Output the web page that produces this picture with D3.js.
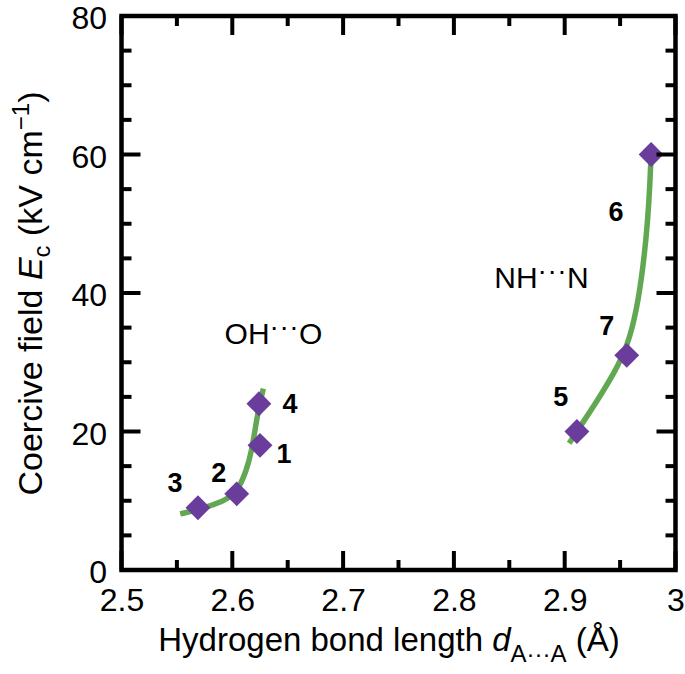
<!DOCTYPE html>
<html><head><meta charset="utf-8">
<script src="https://cdn.jsdelivr.net/npm/d3@7"></script>
<style>body{margin:0;background:#fff}svg{display:block}text{font-family:"Liberation Sans",Arial,Helvetica,sans-serif}</style>
</head><body>
<svg id="c" width="685" height="674"></svg>
<script>
// data
const pointIds = ["1","2","3","4","5","6","7"];
const pointX = [2.625, 2.604, 2.569, 2.624, 2.911, 2.978, 2.956];
const pointY = [18, 11, 9, 24, 20, 60, 31];
// guide curves
const ohCurveX = [2.553, 2.569, 2.592, 2.604, 2.613, 2.6175, 2.6205, 2.6235, 2.628];
const ohCurveY = [8.1, 8.7, 9.9, 11.1, 14.4, 17.3, 20.2, 23.1, 26.2];
const nhCurveX = [2.904, 2.916, 2.930, 2.946, 2.957, 2.965, 2.971, 2.975, 2.977, 2.978];
const nhCurveY = [18.3, 21.2, 24.6, 28.8, 32.5, 37.5, 44.0, 50.5, 56.0, 60.0];
const xTicks = [2.5, 2.6, 2.7, 2.8, 2.9, 3.0];
const xTickLabels = ["2.5", "2.6", "2.7", "2.8", "2.9", "3"];
const xMinor = [2.55, 2.65, 2.75, 2.85, 2.95];
const yTicks = [0, 20, 40, 60, 80];
const yMinor = [5,10,15,25,30,35,45,50,55,65,70,75];
// label offsets for point ids (px)
const labelDx = [24, -18, -23, 31, -16, -35, -20];
const labelDy = [9, -21, -25, 0, -35, 57, -29];

const svg = d3.select("#c");
const L = 121.5, R = 675.5, T = 16, B = 570;
const x = d3.scaleLinear().domain([2.5, 3.0]).range([L, R]);
const y = d3.scaleLinear().domain([0, 80]).range([B, T]);
const black = "#000";

// curves
const line = d3.line().x(d => x(d[0])).y(d => y(d[1])).curve(d3.curveBasis);
const green = "#62a852";
svg.append("path").datum(d3.zip(ohCurveX, ohCurveY)).attr("d", line)
  .attr("fill","none").attr("stroke",green).attr("stroke-width",5.5);
svg.append("path").datum(d3.zip(nhCurveX, nhCurveY)).attr("d", line)
  .attr("fill","none").attr("stroke",green).attr("stroke-width",5.5);

// diamonds
const sym = d3.symbol().type(d3.symbolSquare).size(310);
svg.selectAll(".pt").data(pointIds).enter().append("path")
  .attr("d", sym)
  .attr("transform", (d,i) => `translate(${x(pointX[i])},${y(pointY[i])}) rotate(45)`)
  .attr("fill", "#6a3d9c");

// point labels
svg.selectAll(".lbl").data(pointIds).enter().append("text")
  .attr("x", (d,i) => x(pointX[i]) + labelDx[i])
  .attr("y", (d,i) => y(pointY[i]) + labelDy[i])
  .attr("text-anchor","middle").attr("dominant-baseline","central")
  .attr("font-size", 27).attr("font-weight","bold").text(d => d);

// group labels
function groupLabel(gx, gy, a, b) {
  const t = svg.append("text").attr("x", gx).attr("y", gy).attr("text-anchor","middle").attr("font-size", 30);
  t.append("tspan").text(a);
  t.append("tspan").attr("dy", -8).attr("font-size", 28).attr("letter-spacing", 0.5).text("···");
  t.append("tspan").attr("dy", 8).text(b);
}
groupLabel(273.5, 344, "OH", "O");
groupLabel(541.5, 288, "NH", "N");

// axes: labels from d3 axes, ticks inward on all sides
const axB = d3.axisBottom(x).tickValues(xTicks).tickFormat((d,i) => xTickLabels[i]).tickSize(0).tickPadding(18);
const gB = svg.append("g").attr("transform", `translate(0,${B})`).call(axB);
gB.select(".domain").remove();
gB.selectAll("text").attr("font-size", 32).attr("font-family", '"Liberation Sans",Arial,sans-serif').attr("fill", black);

const axL = d3.axisLeft(y).tickValues(yTicks).tickSize(0).tickPadding(14.5);
const gL = svg.append("g").attr("transform", `translate(${L},2.5)`).call(axL);
gL.select(".domain").remove();
gL.selectAll("text").attr("font-size", 32).attr("font-family", '"Liberation Sans",Arial,sans-serif').attr("fill", black);

const tk = svg.append("g").attr("stroke", black).attr("stroke-width", 4);
const maj = 19, mnr = 10;
xTicks.concat(xMinor).forEach(v => {
  const len = xTicks.includes(v) ? maj : mnr;
  tk.append("line").attr("x1", x(v)).attr("x2", x(v)).attr("y1", B).attr("y2", B - len);
  tk.append("line").attr("x1", x(v)).attr("x2", x(v)).attr("y1", T).attr("y2", T + len);
});
yTicks.concat(yMinor).forEach(v => {
  const len = yTicks.includes(v) ? maj : mnr;
  tk.append("line").attr("y1", y(v)).attr("y2", y(v)).attr("x1", L).attr("x2", L + len);
  tk.append("line").attr("y1", y(v)).attr("y2", y(v)).attr("x1", R).attr("x2", R - len);
});
svg.append("rect").attr("x", L).attr("y", T).attr("width", R - L).attr("height", B - T)
  .attr("fill","none").attr("stroke", black).attr("stroke-width", 4.5);

// axis titles
const xt = svg.append("text").attr("x", 389).attr("y", 651).attr("text-anchor","middle").attr("font-size", 33);
xt.append("tspan").text("Hydrogen bond length ");
xt.append("tspan").attr("font-style","italic").text("d");
xt.append("tspan").attr("dy", 11).attr("font-size", 24).text("A···A");
xt.append("tspan").attr("dy", -11).text(" (Å)");

const yt = svg.append("text").attr("transform", "translate(42,293.5) rotate(-90)").attr("text-anchor","middle").attr("font-size", 34);
yt.append("tspan").text("Coercive field ");
yt.append("tspan").attr("font-style","italic").text("E");
yt.append("tspan").attr("dy", 8).attr("font-size", 24).text("c");
yt.append("tspan").attr("dy", -8).text(" (kV cm");
yt.append("tspan").attr("dy", -13).attr("font-size", 24).text("−1");
yt.append("tspan").attr("dy", 13).text(")");
</script>
</body></html>
